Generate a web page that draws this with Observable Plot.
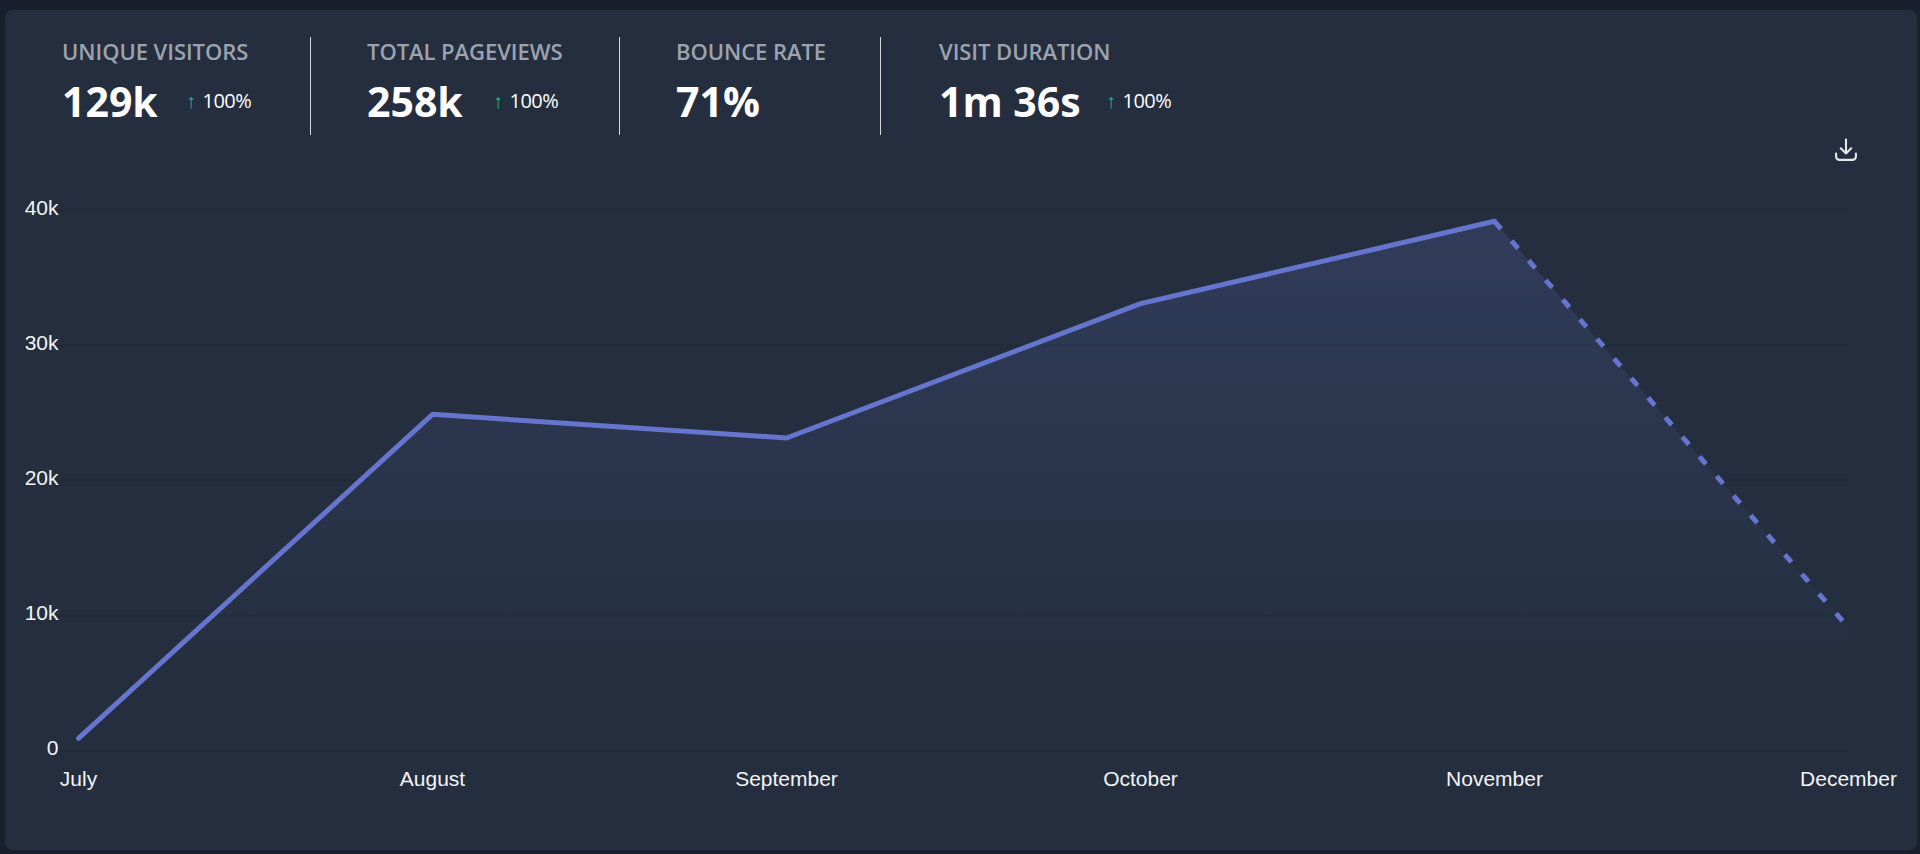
<!DOCTYPE html>
<html><head><meta charset="utf-8">
<script src="https://cdn.jsdelivr.net/npm/d3@7"></script>
<script src="https://cdn.jsdelivr.net/npm/@observablehq/plot@0.6"></script>
<style>
html,body{margin:0;padding:0;width:1920px;height:854px;overflow:hidden;background:#1a1f2d}
#card{position:absolute;left:5px;top:10px;width:1912px;height:840px;border-radius:8px;background:#242e3e}
#head{font-family:"Open Sans",sans-serif;color:#fff}
.lab{position:absolute;top:37px;white-space:nowrap;font-size:22px;font-weight:600;line-height:29px;color:#9ca3af;letter-spacing:-.05px}
.val{position:absolute;top:75px;white-space:nowrap;font-size:41px;font-weight:700;line-height:52px;color:#fff}
.chg{position:absolute;top:87px;white-space:nowrap;font-size:20px;line-height:27px;color:#fff;letter-spacing:-.5px}
.chg i{font-style:normal;color:#10b981;margin-right:7px}
.sep{position:absolute;top:37px;width:1px;height:98px;background:#d5d8dd}
#icon{position:absolute;left:1832px;top:136px;width:28px;height:28px}
#chart{position:absolute;left:0;top:170px}
</style></head><body>
<div id="card"></div>
<div id="head"></div>
<svg id="icon" viewBox="0 0 24 24" fill="none" stroke="#e5e7eb" stroke-width="1.8" stroke-linecap="round" stroke-linejoin="round"><path d="M12 3v12M7.500 10.500 12 15l4.500-4.500M3.500 15v2.500a3 3 0 0 0 3 3h11a3 3 0 0 0 3-3V15"/></svg>
<div id="chart"></div>
<script>
const months = ["July","August","September","October","November","December"];
const visitors = [900,24900,23150,33100,39200,9100];
const yTicks = [0,10000,20000,30000,40000];
const solidMonths = months.slice(0,5);
const solidValues = visitors.slice(0,5);
const dashedMonths = months.slice(4);
const dashedValues = visitors.slice(4);

const statLabels = ["UNIQUE VISITORS","TOTAL PAGEVIEWS","BOUNCE RATE","VISIT DURATION"];
const statValues = ["129k","258k","71%","1m 36s"];
const statChanges = ["100%","100%",null,"100%"];
const statLeft = [62,367,676,939];
const changeLeft = [186,493,null,1106];
const sepLeft = [310,619,880];

const head = d3.select("#head");
statLabels.forEach((l,i)=>{
  head.append("div").attr("class","lab").style("left",statLeft[i]+"px").text(l);
  head.append("div").attr("class","val").style("left",statLeft[i]+"px").text(statValues[i]);
  if(statChanges[i]){
    const c=head.append("div").attr("class","chg").style("left",changeLeft[i]+"px");
    c.append("i").text("↑");
    c.append("span").text(statChanges[i]);
  }
});
sepLeft.forEach(x=>head.append("div").attr("class","sep").style("left",x+"px"));

const table = months.map((m,i)=>({month:m,value:visitors[i]}));
const solid = solidMonths.map((m,i)=>({month:m,value:solidValues[i]}));
const dashed = dashedMonths.map((m,i)=>({month:m,value:dashedValues[i]}));

const gradient = () => {
  const defs = d3.create("svg:defs");
  const g = defs.append("linearGradient").attr("id","fade").attr("x1",0).attr("y1",0).attr("x2",0).attr("y2",1);
  g.append("stop").attr("offset","0%").attr("stop-color","#6574cd").attr("stop-opacity",0.2);
  g.append("stop").attr("offset","88%").attr("stop-color","#6574cd").attr("stop-opacity",0);
  return defs.node();
};

const plot = Plot.plot({
  width:1920,height:650,
  marginLeft:55,marginRight:72,marginTop:40,marginBottom:70,
  style:{background:"transparent",color:"#f3f4f6",fontFamily:"'Liberation Sans',Arial,sans-serif",fontSize:"21px",overflow:"visible"},
  x:{type:"point",domain:months,range:[78,1848],padding:0,label:null},
  y:{domain:[0,40000],label:null},
  marks:[
    gradient,
    Plot.gridY(yTicks,{stroke:"#212a39",strokeOpacity:1,strokeWidth:1.5}),
    Plot.axisY({ticks:yTicks,tickSize:0,tickPadding:-3,dy:-2,label:null,tickFormat:d=>d===0?"0":d/1000+"k",fill:"#f3f4f6"}),
    Plot.axisX({tickSize:0,tickPadding:21,label:null,fill:"#f3f4f6"}),
    Plot.areaY(table,{x:"month",y:"value",fill:"url(#fade)",curve:"linear"}),
    Plot.lineY(solid,{x:"month",y:"value",stroke:"#6574cd",strokeWidth:5,curve:"linear",strokeLinejoin:"round"}),
    Plot.lineY(dashed,{x:"month",y:"value",stroke:"#6574cd",strokeWidth:5,strokeDasharray:"10,16",curve:"linear",strokeLinecap:"butt"})
  ]
});
document.getElementById("chart").appendChild(plot);
</script>
</body></html>
